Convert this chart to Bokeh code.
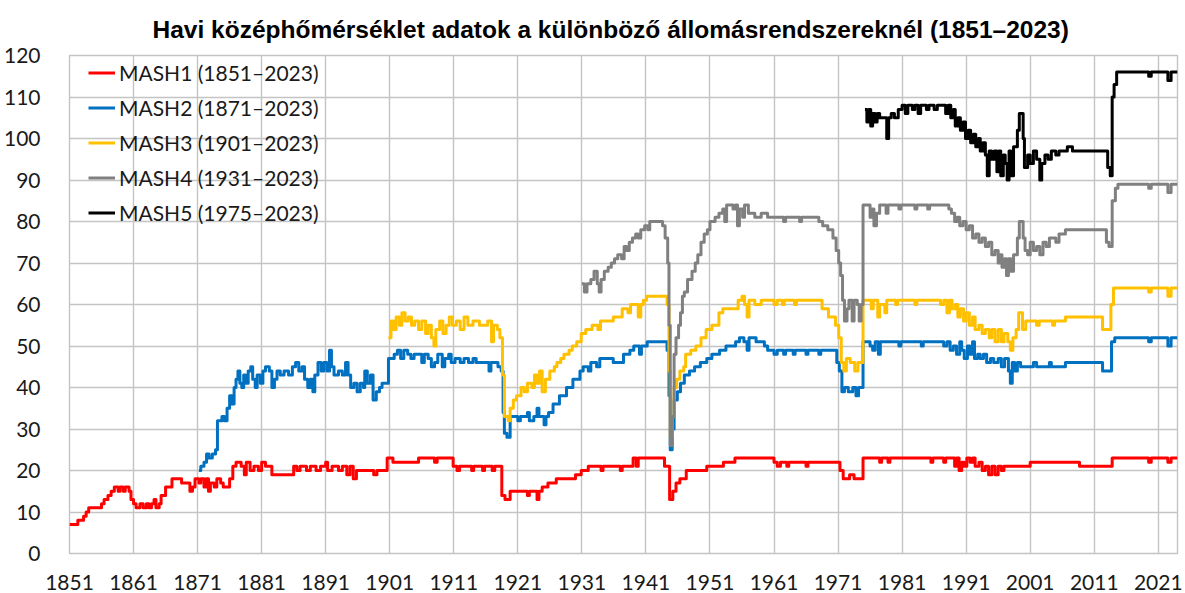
from bokeh.plotting import figure
from bokeh.models import Range1d, FixedTicker, Legend, LegendItem
from bokeh.embed import file_html
from bokeh.resources import INLINE

TITLE = "Havi középhőmérséklet adatok a különböző állomásrendszereknél (1851–2023)"
x_ticks = list(range(1851, 2022, 10))
y_ticks = list(range(0, 121, 10))
series_names = ["MASH1 (1851–2023)", "MASH2 (1871–2023)", "MASH3 (1901–2023)",
                "MASH4 (1931–2023)", "MASH5 (1975–2023)"]
series_colors = ["#FF0000", "#0070C0", "#FFC000", "#808080", "#000000"]

# (year, number of stations) change points
mash1 = [(1851.0,7),(1852.3,8),(1853.2,9),(1853.6,10),(1854.0,11),(1856.0,12),(1856.4,13),(1857.0,14),
 (1857.5,15),(1858.0,16),(1858.6,15),(1858.9,16),(1859.4,15),(1859.7,16),(1860.3,15),(1860.6,13),
 (1861.0,12),(1861.4,11),(1862.0,12),(1862.5,11),(1863.0,12),(1863.4,11),(1863.8,12),(1864.2,13),
 (1864.5,11),(1865.0,12),(1865.3,14),(1866.0,16),(1867.0,18),(1868.5,17),(1869.8,15),(1870.2,16),
 (1870.6,18),(1871.2,17),(1871.5,18),(1872.0,16),(1872.3,18),(1872.7,15),(1873.0,17),(1873.6,16),
 (1874.0,18),(1874.6,17),(1875.0,16),(1876.0,18),(1876.5,21),(1877.0,22),(1877.8,21),(1878.3,19),
 (1878.6,22),(1879.2,20),(1879.8,21),(1880.5,20),(1881.0,22),(1881.6,21),(1882.6,19),(1886.0,21),
 (1886.5,20),(1887.0,21),(1888.0,20),(1888.6,21),(1889.5,20),(1890.2,21),(1891.0,22),(1891.3,20),
 (1892.0,21),(1893.0,20),(1893.6,21),(1894.3,19),(1894.8,21),(1895.3,18),(1895.8,20),(1898.5,19),
 (1899.0,20),(1900.6,23),(1901.5,22),(1905.5,23),(1908.0,22),(1908.4,23),(1910.9,21),(1911.5,20),
 (1911.9,21),(1913.8,20),(1914.1,21),(1915.5,20),(1915.8,21),(1917.0,20),(1917.4,21),(1918.5,14),
 (1919.0,13),(1919.8,15),(1922.5,14),(1922.8,15),(1924.0,13),(1924.3,15),(1924.8,16),(1925.7,17),
 (1927.0,18),(1930.0,19),(1930.9,20),(1932.0,21),(1934.0,20),(1934.3,21),(1937.0,20),(1937.3,21),
 (1939.0,23),(1939.5,21),(1939.8,23),(1943.9,21),(1944.7,13),(1945.2,15),(1945.7,17),(1946.3,18),
 (1947.3,20),(1950.5,21),(1953.1,22),(1954.9,23),(1961.0,22),(1961.5,21),(1962.0,22),(1963.0,21),
 (1963.3,22),(1966.0,21),(1966.3,22),(1971.3,20),(1971.8,18),(1972.8,19),(1973.5,18),(1974.9,23),
 (1977.5,22),(1977.8,23),(1978.8,22),(1979.1,23),(1985.5,22),(1985.8,23),(1987.5,22),(1987.8,23),
 (1989.2,21),(1989.5,23),(1989.9,20),(1990.3,22),(1990.7,21),(1991.1,23),(1991.6,22),(1992.0,23),
 (1992.4,21),(1993.0,22),(1993.5,20),(1994.0,21),(1994.5,19),(1995.0,21),(1995.5,19),(1996.0,21),
 (1996.5,20),(1996.9,21),(2001.0,22),(2008.7,21),(2013.8,23),(2019.5,22),(2019.9,23),(2022.5,22),
 (2023.0,23),(2024.0,23)]

mash2 = [(1871.2,20),(1871.5,21),(1872.0,22),(1872.4,24),(1872.8,23),(1873.3,24),(1873.8,25),(1874.1,32),
 (1874.8,33),(1875.2,32),(1875.6,35),(1876.0,38),(1876.4,36),(1876.7,40),(1877.0,42),(1877.3,44),
 (1877.6,41),(1877.9,40),(1878.2,43),(1878.5,41),(1878.9,44),(1879.3,45),(1879.6,42),(1880.0,40),
 (1880.3,43),(1880.8,41),(1881.2,44),(1881.6,45),(1882.2,44),(1882.6,40),(1883.0,42),(1883.4,44),
 (1883.9,43),(1884.5,44),(1885.2,43),(1885.8,45),(1886.3,46),(1886.8,44),(1887.3,45),(1887.7,42),
 (1888.2,40),(1888.6,42),(1889.0,39),(1889.3,43),(1889.8,46),(1890.3,44),(1890.7,46),(1891.2,44),
 (1891.6,49),(1891.9,45),(1892.3,43),(1893.0,44),(1893.6,43),(1894.1,46),(1894.5,43),(1894.9,40),
 (1895.4,41),(1895.9,39),(1896.4,41),(1896.9,40),(1897.1,44),(1897.5,41),(1898.0,43),(1898.4,37),
 (1898.9,39),(1899.4,40),(1899.8,41),(1900.8,47),(1901.7,48),(1902.2,49),(1902.7,47),(1903.2,49),
 (1903.8,48),(1904.3,47),(1904.8,48),(1906.0,46),(1906.4,48),(1907.0,47),(1907.5,45),(1908.0,46),
 (1908.5,48),(1909.2,45),(1909.6,47),(1910.2,48),(1910.6,46),(1911.2,47),(1912.0,46),(1912.6,47),
 (1913.3,46),(1914.0,47),(1914.5,46),(1916.5,44),(1916.8,46),(1917.9,45),(1918.4,44),(1918.7,34),
 (1918.9,29),(1919.3,28),(1919.8,33),(1921.0,32),(1921.4,33),(1922.5,34),(1922.8,32),(1923.5,33),
 (1924.0,35),(1924.3,33),(1925.1,31),(1925.4,33),(1925.8,34),(1926.5,36),(1927.5,38),(1928.6,40),
 (1929.6,42),(1930.7,44),(1931.2,45),(1932.0,44),(1932.4,46),(1933.3,45),(1933.8,47),(1935.9,46),
 (1937.5,48),(1938.5,49),(1939.1,50),(1940.0,48),(1940.3,50),(1941.2,51),(1944.3,49),(1944.6,38),
 (1944.8,25),(1945.1,30),(1945.4,37),(1945.9,39),(1946.4,41),(1947.0,43),(1947.8,44),(1948.6,45),
 (1949.5,46),(1950.5,47),(1951.3,48),(1952.5,49),(1953.5,50),(1955.0,51),(1955.6,52),(1956.3,51),
 (1956.8,49),(1957.1,52),(1958.2,51),(1959.5,50),(1960.0,49),(1961.0,48),(1961.5,49),(1962.5,48),
 (1962.8,49),(1964.0,48),(1964.3,49),(1966.0,48),(1966.3,49),(1968.0,48),(1968.3,49),(1970.8,46),
 (1971.2,44),(1971.6,39),(1972.0,40),(1972.6,39),(1973.3,40),(1973.8,38),(1974.2,40),(1974.9,51),
 (1976.0,50),(1976.4,49),(1976.8,51),(1977.3,48),(1977.6,51),(1980.5,50),(1980.8,51),(1984.0,50),
 (1984.3,51),(1987.5,50),(1988.0,51),(1988.5,49),(1989.0,50),(1989.5,48),(1990.0,51),(1990.3,49),
 (1990.7,47),(1991.2,50),(1991.6,48),(1992.0,51),(1992.3,47),(1992.8,48),(1993.2,47),(1993.7,48),
 (1994.2,46),(1994.8,47),(1995.3,46),(1996.0,47),(1996.5,45),(1997.0,47),(1997.6,44),(1997.9,41),
 (1998.2,46),(1998.6,44),(1999.0,46),(1999.5,45),(2001.5,46),(2002.0,45),(2004.0,46),(2004.3,45),
 (2006.5,46),(2012.3,44),(2013.7,51),(2014.2,52),(2019.5,51),(2019.9,52),(2022.5,50),(2023.0,52),
 (2024.0,52)]

mash3 = [(1900.8,52),(1901.2,56),(1901.6,54),(1902.0,57),(1902.5,55),(1902.9,58),(1903.4,56),(1903.9,57),
 (1904.4,55),(1904.9,56),(1905.5,54),(1906.0,56),(1906.6,53),(1907.0,55),(1907.5,52),(1907.9,50),
 (1908.2,54),(1908.8,56),(1909.3,53),(1909.8,55),(1910.3,57),(1910.8,55),(1911.4,56),(1912.0,54),
 (1912.6,57),(1913.2,55),(1914.0,56),(1915.0,55),(1916.3,56),(1916.9,51),(1917.2,55),(1917.8,54),
 (1918.2,52),(1918.6,43),(1918.9,33),(1919.5,32),(1919.8,35),(1920.3,37),(1920.8,38),(1921.5,40),
 (1922.0,39),(1922.5,41),(1923.2,40),(1923.6,43),(1924.0,41),(1924.4,44),(1924.8,39),(1925.3,42),
 (1926.0,44),(1926.7,45),(1927.1,46),(1927.7,47),(1928.2,48),(1929.0,49),(1929.5,50),(1930.2,51),
 (1930.9,53),(1931.6,54),(1932.6,55),(1933.5,54),(1933.9,56),(1935.9,57),(1937.3,59),(1938.2,58),
 (1938.6,60),(1939.8,57),(1940.2,60),(1940.6,61),(1941.1,62),(1944.3,60),(1944.6,44),(1944.8,28),
 (1945.1,33),(1945.4,40),(1945.8,42),(1946.3,44),(1946.9,45),(1947.2,48),(1948.0,49),(1948.8,50),
 (1949.6,52),(1950.4,54),(1951.3,55),(1952.4,58),(1953.0,59),(1955.4,61),(1956.0,62),(1956.4,60),
 (1956.8,57),(1957.1,61),(1958.0,60),(1959.0,61),(1961.0,60),(1961.5,61),(1962.3,60),(1962.6,61),
 (1964.2,60),(1964.5,61),(1968.5,59),(1969.5,57),(1970.6,55),(1971.1,52),(1971.5,46),(1971.9,44),
 (1972.3,47),(1972.9,46),(1973.6,44),(1974.1,46),(1974.9,61),(1976.2,59),(1976.5,61),(1977.2,57),
 (1977.5,60),(1978.3,58),(1978.6,61),(1980.0,60),(1980.3,61),(1983.0,60),(1983.3,61),(1987.0,60),
 (1987.5,61),(1988.0,58),(1988.4,61),(1988.8,59),(1989.3,60),(1989.7,57),(1990.1,59),(1990.6,56),
 (1991.0,58),(1991.5,55),(1992.0,57),(1992.4,54),(1993.0,55),(1993.5,53),(1994.0,54),(1994.6,52),
 (1995.0,54),(1995.5,51),(1996.0,54),(1996.5,51),(1996.9,53),(1997.5,51),(1997.9,49),(1998.3,52),
 (1998.8,54),(1999.2,58),(1999.8,54),(2000.3,56),(2002.0,55),(2002.4,56),(2004.5,55),(2004.8,56),
 (2006.5,57),(2012.3,54),(2013.6,60),(2014.0,64),(2019.5,63),(2019.9,64),(2022.5,62),(2023.0,64),
 (2024.0,64)]

mash4 = [(1931.0,65),(1931.4,63),(1931.8,65),(1932.4,66),(1932.9,68),(1933.4,65),(1933.7,63),(1934.0,66),
 (1934.5,68),(1935.1,69),(1935.6,70),(1936.1,71),(1936.6,72),(1937.2,71),(1937.6,74),(1938.0,73),
 (1938.4,75),(1938.9,76),(1939.4,77),(1939.8,76),(1940.2,78),(1940.8,79),(1941.3,78),(1941.6,80),
 (1943.6,79),(1944.0,76),(1944.4,70),(1944.6,55),(1944.8,26),(1945.1,33),(1945.4,48),(1945.7,52),
 (1946.1,55),(1946.4,58),(1946.7,62),(1947.0,63),(1947.5,66),(1948.2,68),(1948.7,70),(1949.1,72),
 (1949.6,75),(1950.1,77),(1950.6,78),(1951.0,80),(1951.8,81),(1952.4,82),(1953.0,83),(1953.3,80),
 (1953.6,84),(1954.6,83),(1955.0,84),(1955.3,79),(1955.6,83),(1956.1,81),(1956.4,84),(1957.0,82),
 (1958.0,81),(1959.0,82),(1960.0,81),(1962.5,80),(1962.8,81),(1965.0,80),(1965.3,81),(1968.0,80),
 (1968.6,79),(1969.4,78),(1970.2,76),(1970.7,73),(1971.1,70),(1971.4,67),(1971.7,61),(1972.0,56),
 (1972.4,59),(1972.7,61),(1973.2,56),(1973.5,61),(1974.0,60),(1974.3,56),(1974.6,60),(1974.9,84),
 (1976.0,81),(1976.3,83),(1976.6,79),(1977.0,82),(1977.5,84),(1978.5,82),(1978.8,84),(1980.5,83),
 (1980.8,84),(1983.0,83),(1983.3,84),(1985.0,83),(1985.3,84),(1988.3,83),(1988.7,82),(1989.2,80),
 (1989.6,81),(1990.0,79),(1990.5,80),(1991.0,78),(1991.5,79),(1992.0,76),(1992.5,77),(1993.0,75),
 (1993.5,76),(1994.0,74),(1994.5,75),(1995.0,72),(1995.5,73),(1996.0,70),(1996.3,72),(1996.6,69),
 (1997.0,71),(1997.3,67),(1997.6,71),(1998.0,68),(1998.4,72),(1999.0,76),(1999.3,80),(1999.9,76),
 (2000.2,73),(2000.6,72),(2001.0,75),(2001.5,73),(2002.0,74),(2002.5,72),(2003.0,75),(2003.5,74),
 (2004.0,76),(2005.0,75),(2005.5,77),(2006.5,78),(2012.9,75),(2013.3,74),(2013.8,85),(2014.3,88),
 (2014.7,89),(2019.5,88),(2019.9,89),(2022.5,87),(2023.0,89),(2024.0,89)]

mash5 = [(1975.2,107),(1975.5,104),(1975.8,107),(1976.1,103),(1976.4,106),(1976.8,104),(1977.1,106),
 (1977.5,105),(1978.6,100),(1978.9,105),(1979.3,106),(1979.8,105),(1980.4,107),(1981.0,108),(1981.5,106),
 (1981.9,108),(1982.6,107),(1983.0,108),(1983.5,106),(1983.9,108),(1984.8,107),(1985.2,108),(1986.0,107),
 (1986.5,108),(1987.8,106),(1988.2,108),(1988.6,105),(1989.0,107),(1989.3,103),(1989.7,105),(1990.1,102),
 (1990.5,104),(1990.9,100),(1991.3,102),(1991.7,99),(1992.1,101),(1992.5,98),(1992.9,100),(1993.2,97),
 (1993.6,99),(1994.0,96),(1994.3,91),(1994.6,97),(1995.0,95),(1995.4,97),(1995.8,92),(1996.1,97),
 (1996.4,91),(1996.8,96),(1997.1,94),(1997.4,90),(1997.7,97),(1998.0,91),(1998.4,98),(1999.0,102),
 (1999.3,106),(1999.9,100),(2000.1,93),(2000.6,96),(2001.0,94),(2001.5,97),(2002.0,95),(2002.5,90),
 (2002.8,94),(2003.3,96),(2003.8,95),(2004.3,97),(2005.0,96),(2005.5,97),(2006.8,98),(2007.6,97),
 (2013.1,93),(2013.5,91),(2013.8,110),(2014.1,113),(2014.5,116),(2019.5,115),(2019.9,116),(2022.5,114),
 (2023.0,116),(2024.0,116)]

all_series = [mash1, mash2, mash3, mash4, mash5]

W, H = 1184, 592
FRAME_H = 553 - 55
p = figure(width=W, height=H, output_backend="svg", toolbar_location=None,
           x_range=Range1d(1851, 2024), y_range=Range1d(0, 120),
           min_border_left=69, min_border_right=W - 1177, min_border_top=55,
           min_border_bottom=H - 553)

p.title.text = TITLE
p.title.text_font = "Liberation Sans"
p.title.text_font_style = "bold"
p.title.text_font_size = "24.5px"
p.title.align = "left"
p.title.offset = 83
p.title.standoff = 25
p.title.text_color = "#000000"

grid_color = "#C4C4C4"
p.xaxis.ticker = FixedTicker(ticks=x_ticks)
p.yaxis.ticker = FixedTicker(ticks=y_ticks)
p.xgrid.ticker = FixedTicker(ticks=x_ticks)
p.ygrid.ticker = FixedTicker(ticks=y_ticks)
for g in (p.xgrid, p.ygrid):
    g.grid_line_color = grid_color
    g.grid_line_width = 1.4
p.outline_line_color = grid_color
p.outline_line_width = 1.4

for ax in (p.xaxis, p.yaxis):
    ax.axis_line_color = None
    ax.major_tick_line_color = None
    ax.minor_tick_line_color = None
    ax.major_label_text_font = "Lato"
    ax.major_label_text_font_size = "21px"
    ax.major_label_text_color = "#1A1A1A"
p.xaxis.major_label_standoff = 15
p.yaxis.major_label_standoff = 23

items = []
for name, color, data in zip(series_names, series_colors, all_series):
    xs = [d[0] for d in data]
    ys = [d[1] for d in data]
    r = p.step(xs, ys, mode="after", line_color=color, line_width=3, line_join="round")
    items.append(LegendItem(label=name, renderers=[r]))

legend = Legend(items=items, location=(17, FRAME_H - 179 + 2), background_fill_alpha=0,
                border_line_alpha=0, margin=0, padding=2, spacing=0,
                glyph_width=27, glyph_height=35, label_height=35, label_standoff=4,
                label_text_font="Lato", label_text_font_size="21px", label_text_color="#1A1A1A")
p.add_layout(legend)

open("out.html", "w").write(file_html(p, INLINE))
